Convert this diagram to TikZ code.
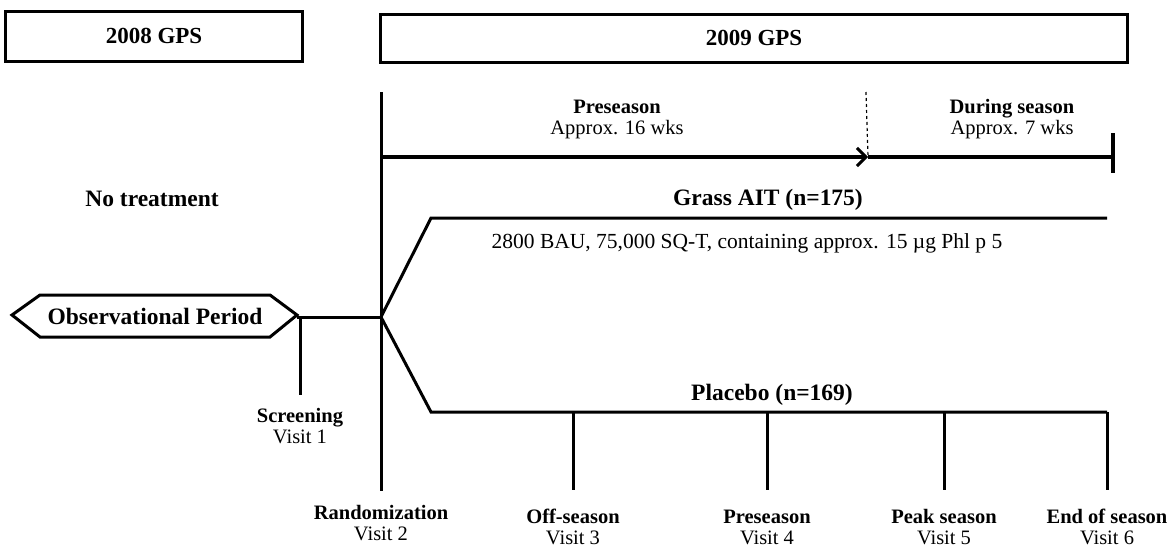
\documentclass[tikz,border=0pt]{standalone}
\usepackage{fontspec}
\setmainfont{Liberation Serif}
\usetikzlibrary{positioning, calc, arrows.meta}

\begin{document}
\begin{tikzpicture}[x=1pt, y=-1pt,
    txt/.style={font=\fontsize{20.5}{21}\selectfont, align=center, inner sep=0pt},
    head/.style={font=\fontsize{23.5}{26}\selectfont\bfseries, inner sep=0pt},
    yearbox/.style={draw, line width=3pt, font=\fontsize{23}{25}\selectfont\bfseries},
    ln/.style={line width=3pt},
    axis/.style={line width=3.8pt}]

    \useasboundingbox (0,0) rectangle (1176,547);

    % --- TOP: study years ---
    \node[yearbox, minimum width=297, minimum height=50] (gps08) at (154,36) {2008 GPS};
    \node[yearbox, minimum width=747, minimum height=48] (gps09) at (754,38) {2009 GPS};

    % --- Season axis ---
    \coordinate (randtop) at (381,92);
    \coordinate (randbot) at (381,491);
    \coordinate (ax0) at (381,157);
    \coordinate (axmid) at (868,157);
    \coordinate (axend) at (1113,157);
    \draw[ln] (randtop) -- (randbot);
    \draw[axis, -{Straight Barb[length=9pt, width=18pt, line width=3pt]}] (ax0) -- (axmid);
    \draw[axis] (axmid) -- (axend);
    \draw[axis] ($(axend)+(0,-24)$) -- ($(axend)+(0,16)$);
    \draw[line width=1.2pt, dashed] (866,92) -- (axmid);

    \node[txt] (pre) at (617,119) {\textbf{Preseason}\\Approx. 16 wks};
    \node[txt] (during) at (1012,119) {\textbf{During season}\\Approx. 7 wks};

    % --- Observational period ---
    \node[head] (notreat) at (152,199) {No treatment};
    \draw[ln] (12,315) -- (40,295) -- (270,295) -- (297,315) -- (270,337) -- (40,337) -- cycle;
    \node[head] (obs) at (155,316) {Observational Period};
    \coordinate (obsR) at (297,317);
    \coordinate (rand) at (381,317);
    \coordinate (scrbot) at (300,395);
    \draw[ln] (obsR) -- (rand);
    \draw[ln] (300,317) -- (scrbot);
    \node[txt, below=13pt of scrbot] (scr) {\textbf{Screening}\\Visit 1};

    % --- Treatment arms ---
    \coordinate (ait0) at (431,218);
    \coordinate (ait1) at (1107,218);
    \coordinate (pla0) at (431,412);
    \coordinate (pla1) at (1107,412);
    \draw[ln] (rand) -- (ait0) -- (ait1);
    \draw[ln] (rand) -- (pla0) -- (pla1);
    \node[head] (ait) at (768,200) {Grass AIT (n=175)};
    \node[txt, font=\fontsize{21.5}{23}\selectfont] (dose) at (747,243) {2800 BAU, 75,000 SQ-T, containing approx. 15 µg Phl p 5};
    \node[head] (pla) at (772,395) {Placebo (n=169)};

    % --- Visits ---
    \foreach \xv/\nm/\vis in {573/Off-season/3, 767/Preseason/4, 944/Peak season/5, 1107/End of season/6}{
        \draw[ln] (\xv,412) -- (\xv,490);
        \node[txt] (visit\vis) at (\xv,527) {\textbf{\nm}\\Visit \vis};
    }
    \node[txt] (visit2) at (381,523) {\textbf{Randomization}\\Visit 2};

\end{tikzpicture}
\end{document}
